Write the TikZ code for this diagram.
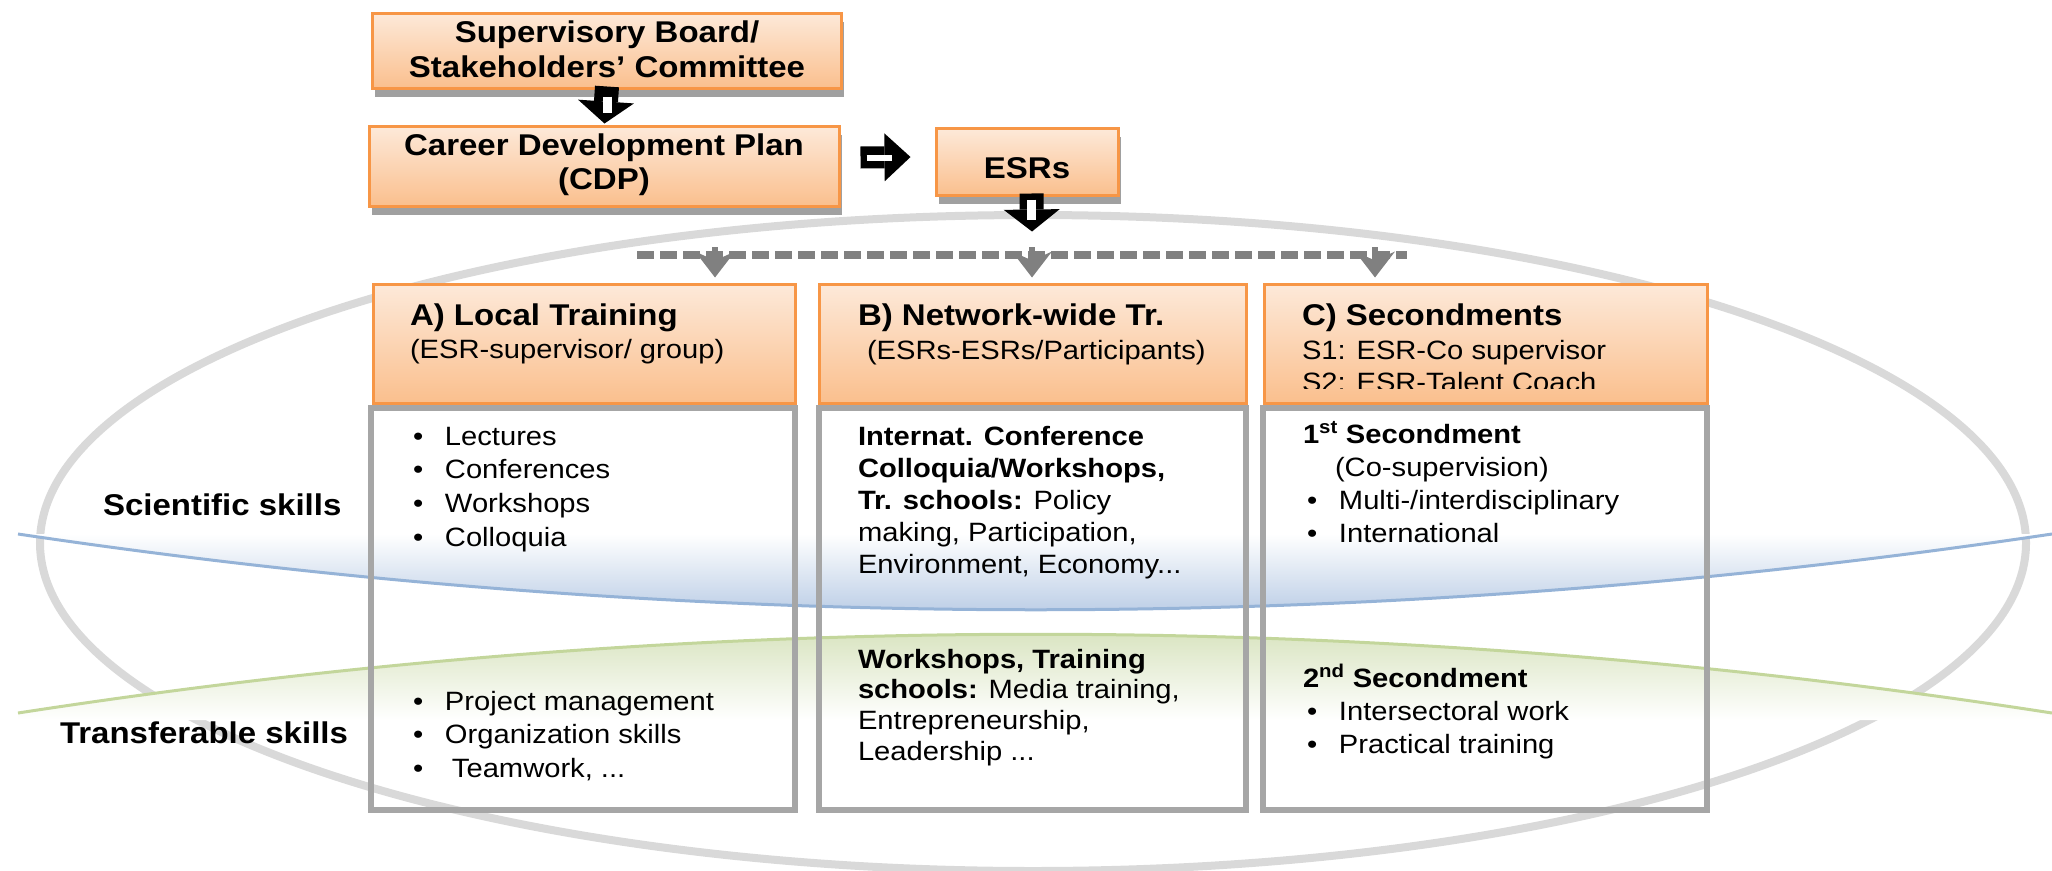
\documentclass[tikz,border=0pt]{standalone}
\usepackage{fontspec}
\setmainfont{Liberation Sans}[FakeStretch=1.1]
\usetikzlibrary{arrows.meta,shadows,calc}
\definecolor{orgline}{HTML}{F79646}
\definecolor{orgtop}{HTML}{FDE9D9}
\definecolor{orgbot}{HTML}{FABF8D}
\definecolor{frmc}{HTML}{A6A6A6}
\definecolor{shgray}{HTML}{A0A0A0}
\definecolor{ellc}{HTML}{D9D9D9}
\definecolor{blueln}{HTML}{95B3D7}
\definecolor{bluesh}{HTML}{A9C0DF}
\definecolor{greenln}{HTML}{C3D69B}
\definecolor{greensh}{HTML}{CFDDB0}
\definecolor{dashc}{HTML}{808080}
\newcommand\fbig{\fontsize{30pt}{35pt}\selectfont\bfseries}
\newcommand\fsm{\fontsize{26.5pt}{33pt}\selectfont}
\newcommand\bul{\makebox[32pt][l]{\textbullet}}
\newcommand\vl[2]{\vtop{\baselineskip=#1pt\lineskiplimit=-100pt\lineskip=0pt #2}}
\begin{document}
\begin{tikzpicture}[x=1pt,y=-1pt,
  topbox/.style={draw=orgline, line width=3pt, top color=orgtop, bottom color=orgbot,
    inner sep=0pt, outer sep=0pt,
    drop shadow={shadow xshift=2pt, shadow yshift=-8pt, opacity=1, fill=shgray}},
  hdr/.style={draw=orgline, line width=3pt, top color=orgtop, bottom color=orgbot,
    inner sep=0pt, outer sep=0pt},
  frm/.style={draw=frmc, line width=6pt},
  txt/.style={inner sep=0pt, outer sep=0pt, anchor=base west, text=black},
  ctxt/.style={inner sep=0pt, outer sep=0pt, anchor=base, text=black, font=\fbig},
  blk/.style={black, line width=24pt, -{Triangle[length=22pt,width=56pt,line width=0pt]}},
  blkr/.style={black, line width=22pt, -{Triangle[length=26pt,width=48pt,line width=0pt]}},
  slit/.style={white, line width=9pt},
  garrow/.style={dashc, line width=6pt, -{Stealth[length=26pt,width=40pt,inset=9pt,line width=0pt]}},
  ]
\useasboundingbox (0,0) rectangle (2052,870);

% big gray ellipse
\draw[ellc, line width=8pt] (1033,543) ellipse [x radius=993, y radius=328];

% blue band
\shade[top color=white, bottom color=bluesh]
  (18,534) .. controls (697,635) and (1375,635) .. (2052,534) -- cycle;
\draw[blueln, line width=3pt] (18,534) .. controls (697,635) and (1375,635) .. (2052,534);

% green band
\shade[top color=greensh, bottom color=white]
  (18,713) .. controls (697,608) and (1375,608) .. (2052,713) -- (2052,720) -- (18,720) -- cycle;
\draw[greenln, line width=3pt] (18,713) .. controls (697,608) and (1375,608) .. (2052,713);

% lower frames
\draw[frm] (370.5,408) rectangle (794.5,809.5);
\draw[frm] (818.5,408) rectangle (1246,809.5);
\draw[frm] (1262.5,408) rectangle (1706.5,809.5);

% top boxes
\node[topbox, minimum width=469pt, minimum height=75pt] (sup) at (607,51) {};
\node[topbox, minimum width=470pt, minimum height=80pt] (cdp) at (604.5,166.5) {};
\node[topbox, minimum width=182pt, minimum height=67pt] (esr) at (1027.5,162) {};

% headers
\node[hdr, minimum width=422pt, minimum height=119pt] (hA) at (584.5,344) {};
\node[hdr, minimum width=427pt, minimum height=119pt] (hB) at (1033,344) {};
\node[hdr, minimum width=443pt, minimum height=119pt] (hC) at (1486,344) {};

% dashed distribution line and arrows
\coordinate (dL) at (637,255);
\coordinate (dR) at (1407,255);
\draw[dashc, line width=8pt, dash pattern=on 17pt off 6pt] (dL) -- (dR);
\coordinate (dA) at (715,247);
\coordinate (dB) at (1032,247);
\coordinate (dC) at (1375,247);
\draw[garrow, shorten >=7pt] (dA) -- (dA |- hA.north);
\draw[garrow, shorten >=7pt] (dB) -- (dB |- hB.north);
\draw[garrow, shorten >=7pt] (dC) -- (dC |- hC.north);

% block arrows
\draw[blk] ([yshift=2pt]sup.south) -- ([yshift=3pt]cdp.north);
\draw[slit] ([yshift=-8pt]sup.south) -- ([yshift=-24pt]sup.south);
\draw[blkr] ([shift={(21,-9)}]cdp.east) -- ([shift={(-26,-5)}]esr.west);
\draw[slit, line width=6pt] ([shift={(27,-9)}]cdp.east) -- ([shift={(52,-9)}]cdp.east);
\coordinate (esrtip) at (1032,231.5);
\draw[blk] ([shift={(4,-2)}]esr.south) -- (esrtip);
\draw[slit] ([shift={(4,4)}]esr.south) -- ([shift={(4,24)}]esr.south);

% top box texts
\node[ctxt] (t1) at (607,42) {Supervisory Board/};
\node[ctxt] (t2) at (607,77) {Stakeholders’ Committee};
\node[ctxt] (t3) at (604,155) {Career Development Plan};
\node[ctxt] (t4) at (604,189) {(CDP)};
\node[ctxt] (t5) at (1027,178) {ESRs};

% header texts
\node[txt, font=\fbig] (ha1) at (410,325) {A) Local Training};
\node[txt, font=\fsm] (ha2) at (410,358) {(ESR-supervisor/ group)};
\node[txt, font=\fbig] (hb1) at (858,325) {B) Network-wide Tr.};
\node[txt, font=\fsm] (hb2) at (867,359) {(ESRs-ESRs/Participants)};
\node[txt, font=\fbig] (hc1) at (1302,325) {C) Secondments};
\node[txt, font=\fsm] (hc2) at (1302,359) {S1: ESR-Co supervisor};
\begin{scope}
\clip (1266,300) rectangle (1706,388);
\node[txt, font=\fsm] (hc3) at (1302,391) {S2: ESR-Talent Coach};
\end{scope}

% side labels
\node[txt, font=\fbig] (ls) at (103,515) {Scientific skills};
\node[txt, font=\fbig] (lt) at (60,743) {Transferable skills};

% column A
\node[txt, font=\fsm] (ca1) at (413,445) {\vl{33.8}{\hbox{\bul Lectures}\hbox{\bul Conferences}\hbox{\bul Workshops}\hbox{\bul Colloquia}}};
\node[txt, font=\fsm] (ca2) at (413,710) {\vl{33.5}{\hbox{\bul Project management}\hbox{\bul Organization skills}\hbox{\bul\hspace{7pt}Teamwork, ...}}};

% column B
\node[txt, font=\fsm] (cb1) at (858,445) {\vl{32}{\hbox{\textbf{Internat. Conference}}\hbox{\textbf{Colloquia/Workshops,}}\hbox{\textbf{Tr. schools:} Policy}\hbox{making, Participation,}\hbox{Environment, Economy...}}};
\node[txt, font=\fsm] (cb2) at (858,668) {\vl{30.7}{\hbox{\textbf{Workshops, Training}}\hbox{\textbf{schools:} Media training,}\hbox{Entrepreneurship,}\hbox{Leadership ...}}};

% column C
\node[txt, font=\fsm] (cc1) at (1303,443) {\vl{33}{\hbox{\textbf{1\textsuperscript{st} Secondment}}\hbox{\hspace{32pt}(Co-supervision)}\hbox{\hspace{4pt}\bul Multi-/interdisciplinary}\hbox{\hspace{4pt}\bul International}}};
\node[txt, font=\fsm] (cc2) at (1303,687) {\vl{33}{\hbox{\textbf{2\textsuperscript{nd} Secondment}}\hbox{\hspace{4pt}\bul Intersectoral work}\hbox{\hspace{4pt}\bul Practical training}}};
\end{tikzpicture}
\end{document}
